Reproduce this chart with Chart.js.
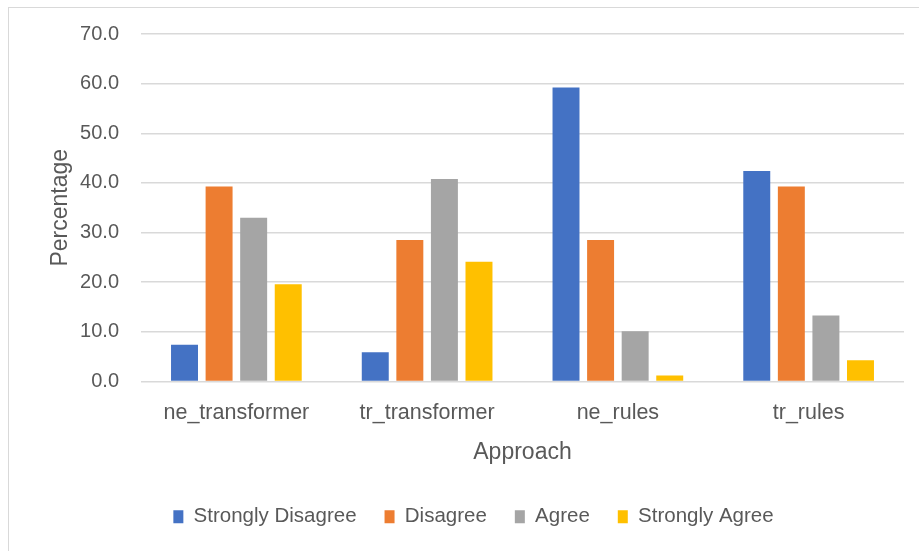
<!DOCTYPE html>
<html>
<head>
<meta charset="utf-8">
<script src="https://cdn.jsdelivr.net/npm/chart.js@4/dist/chart.umd.min.js"></script>
<style>
  html, body { margin: 0; padding: 0; background: #fff; overflow: hidden; }
  #frame { position: absolute; left: 8px; top: 7px; width: 940px; height: 580px; border: 1px solid #d9d9d9; }
  #wrap { position: absolute; left: 0; top: 0; width: 919px; height: 551px; }
</style>
</head>
<body>
<div id="frame"></div>
<div id="wrap"><canvas id="chart"></canvas></div>
<script>
const categories = ["ne_transformer", "tr_transformer", "ne_rules", "tr_rules"];
const stronglyDisagree = [7.4, 5.9, 59.2, 42.4];
const disagree = [39.3, 28.5, 28.5, 39.3];
const agree = [33.0, 40.8, 10.1, 13.3];
const stronglyAgree = [19.6, 24.1, 1.2, 4.3];

const textColor = "#595959";
const gridColor = "#d9d9d9";
const font = "'Liberation Sans', Arial, sans-serif";

function makeSet(label, data, color) {
  return {
    label: label,
    data: data,
    backgroundColor: color,
    borderWidth: 0,
    categoryPercentage: 0.725,
    barPercentage: 0.78
  };
}

const ctx = document.getElementById("chart").getContext("2d");
new Chart(ctx, {
  type: "bar",
  data: {
    labels: categories,
    datasets: [
      makeSet("Strongly Disagree", stronglyDisagree, "#4472c4"),
      makeSet("Disagree", disagree, "#ed7d31"),
      makeSet("Agree", agree, "#a5a5a5"),
      makeSet("Strongly Agree", stronglyAgree, "#ffc000")
    ]
  },
  options: {
    responsive: true,
    maintainAspectRatio: false,
    animation: false,
    layout: { padding: { left: 43, right: 15, top: 34, bottom: 14 } },
    plugins: {
      tooltip: { enabled: false },
      legend: {
        position: "bottom",
        labels: {
          color: textColor,
          boxWidth: 10,
          boxHeight: 13,
          padding: 28,
          font: { family: font, size: 20.5 }
        }
      }
    },
    scales: {
      x: {
        grid: { display: false },
        border: { display: false },
        ticks: { color: textColor, padding: 11, font: { family: font, size: 21.5 } },
        title: { display: true, text: "Approach", color: textColor, padding: { top: 4, bottom: 12 }, font: { family: font, size: 23 } },
        afterFit: s => { s.height = 97; }
      },
      y: {
        min: 0,
        max: 70,
        ticks: {
          stepSize: 10,
          color: textColor,
          padding: 22,
          font: { family: font, size: 20 },
          callback: v => Number(v).toFixed(1)
        },
        grid: { color: gridColor, lineWidth: 1.5, drawTicks: false },
        border: { display: false },
        title: { display: true, text: "Percentage", color: textColor, font: { family: font, size: 23 } },
        afterFit: s => { s.width = 98; }
      }
    }
  }
});
</script>
</body>
</html>
